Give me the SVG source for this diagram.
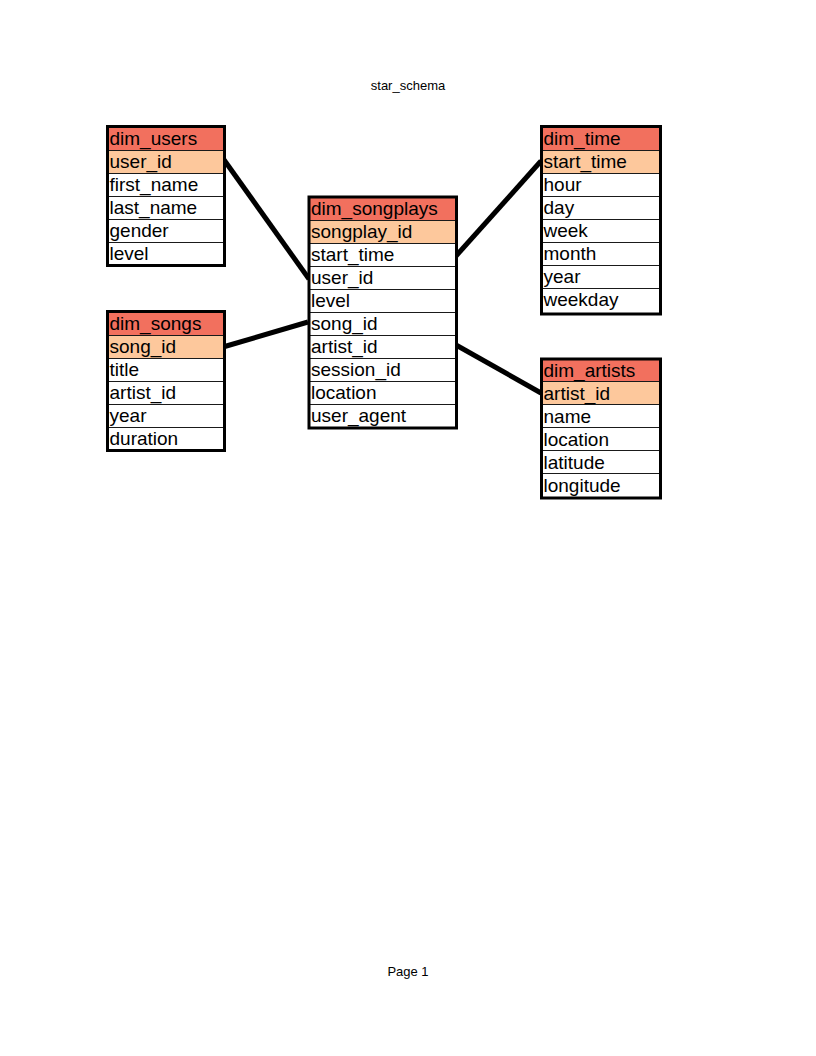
<svg xmlns="http://www.w3.org/2000/svg" width="816" height="1056" viewBox="0 0 816 1056">
<style>
.bg{fill:#ffffff}
.hdr{fill:#f2705e}
.pk{fill:#fdc89c}
.row{fill:#ffffff}
.sep{stroke:#1a1a1a;stroke-width:1}
.box{fill:none;stroke:#000;stroke-width:3}
.t{font-family:"Liberation Sans",Arial,sans-serif;font-size:19px;fill:#000}
.cap{font-family:"Liberation Sans",Arial,sans-serif;font-size:13px;fill:#000;text-anchor:middle}
.edge{stroke:#000;stroke-width:5;stroke-linecap:butt;fill:none}
</style>
<rect class="bg" x="0" y="0" width="816" height="1056"/>
<text class="cap" x="408" y="90">star_schema</text>
<text class="cap" x="408" y="976">Page 1</text>

<g id="connectors">
<line class="edge" x1="222" y1="157" x2="309" y2="279"/>
<line class="edge" x1="223" y1="347" x2="308" y2="322"/>
<line class="edge" x1="456" y1="256" x2="541" y2="161"/>
<line class="edge" x1="456" y1="345" x2="541" y2="393"/>
</g>

<g id="dim_users">
<rect class="hdr" x="107.5" y="127" width="117" height="23"/>
<rect class="pk" x="107.5" y="150" width="117" height="23"/>
<rect class="row" x="107.5" y="173" width="117" height="92"/>
<line class="sep" x1="107.5" y1="150.5" x2="224.5" y2="150.5"/>
<line class="sep" x1="107.5" y1="173.5" x2="224.5" y2="173.5"/>
<line class="sep" x1="107.5" y1="196.5" x2="224.5" y2="196.5"/>
<line class="sep" x1="107.5" y1="219.5" x2="224.5" y2="219.5"/>
<line class="sep" x1="107.5" y1="242.5" x2="224.5" y2="242.5"/>
<rect class="box" x="107.5" y="126.5" width="117" height="139"/>
<text class="t" x="109.5" y="145">dim_users</text>
<text class="t" x="109.5" y="168">user_id</text>
<text class="t" x="109.5" y="191">first_name</text>
<text class="t" x="109.5" y="214">last_name</text>
<text class="t" x="109.5" y="237">gender</text>
<text class="t" x="109.5" y="260">level</text>
</g>

<g id="dim_songs">
<rect class="hdr" x="107.5" y="312" width="117" height="23"/>
<rect class="pk" x="107.5" y="335" width="117" height="23"/>
<rect class="row" x="107.5" y="358" width="117" height="92"/>
<line class="sep" x1="107.5" y1="335.5" x2="224.5" y2="335.5"/>
<line class="sep" x1="107.5" y1="358.5" x2="224.5" y2="358.5"/>
<line class="sep" x1="107.5" y1="381.5" x2="224.5" y2="381.5"/>
<line class="sep" x1="107.5" y1="404.5" x2="224.5" y2="404.5"/>
<line class="sep" x1="107.5" y1="427.5" x2="224.5" y2="427.5"/>
<rect class="box" x="107.5" y="311.5" width="117" height="139"/>
<text class="t" x="109.5" y="330">dim_songs</text>
<text class="t" x="109.5" y="353">song_id</text>
<text class="t" x="109.5" y="376">title</text>
<text class="t" x="109.5" y="399">artist_id</text>
<text class="t" x="109.5" y="422">year</text>
<text class="t" x="109.5" y="445">duration</text>
</g>

<g id="dim_songplays">
<rect class="hdr" x="309" y="197.5" width="147.5" height="23"/>
<rect class="pk" x="309" y="220.5" width="147.5" height="23"/>
<rect class="row" x="309" y="243.5" width="147.5" height="185"/>
<line class="sep" x1="309" y1="220.5" x2="456.5" y2="220.5"/>
<line class="sep" x1="309" y1="243.5" x2="456.5" y2="243.5"/>
<line class="sep" x1="309" y1="266.5" x2="456.5" y2="266.5"/>
<line class="sep" x1="309" y1="289.5" x2="456.5" y2="289.5"/>
<line class="sep" x1="309" y1="312.5" x2="456.5" y2="312.5"/>
<line class="sep" x1="309" y1="335.5" x2="456.5" y2="335.5"/>
<line class="sep" x1="309" y1="358.5" x2="456.5" y2="358.5"/>
<line class="sep" x1="309" y1="381.5" x2="456.5" y2="381.5"/>
<line class="sep" x1="309" y1="404.5" x2="456.5" y2="404.5"/>
<rect class="box" x="309" y="197" width="147.5" height="231"/>
<text class="t" x="311" y="215">dim_songplays</text>
<text class="t" x="311" y="238">songplay_id</text>
<text class="t" x="311" y="261">start_time</text>
<text class="t" x="311" y="284">user_id</text>
<text class="t" x="311" y="307">level</text>
<text class="t" x="311" y="330">song_id</text>
<text class="t" x="311" y="353">artist_id</text>
<text class="t" x="311" y="376">session_id</text>
<text class="t" x="311" y="399">location</text>
<text class="t" x="311" y="422">user_agent</text>
</g>

<g id="dim_time">
<rect class="hdr" x="541.5" y="127.5" width="119" height="23"/>
<rect class="pk" x="541.5" y="150.5" width="119" height="23"/>
<rect class="row" x="541.5" y="173.5" width="119" height="140"/>
<line class="sep" x1="541.5" y1="150.5" x2="660.5" y2="150.5"/>
<line class="sep" x1="541.5" y1="173.5" x2="660.5" y2="173.5"/>
<line class="sep" x1="541.5" y1="196.5" x2="660.5" y2="196.5"/>
<line class="sep" x1="541.5" y1="219.5" x2="660.5" y2="219.5"/>
<line class="sep" x1="541.5" y1="242.5" x2="660.5" y2="242.5"/>
<line class="sep" x1="541.5" y1="265.5" x2="660.5" y2="265.5"/>
<line class="sep" x1="541.5" y1="288.5" x2="660.5" y2="288.5"/>
<rect class="box" x="541.5" y="126.5" width="119" height="187.5"/>
<text class="t" x="543.5" y="145">dim_time</text>
<text class="t" x="543.5" y="168">start_time</text>
<text class="t" x="543.5" y="191">hour</text>
<text class="t" x="543.5" y="214">day</text>
<text class="t" x="543.5" y="237">week</text>
<text class="t" x="543.5" y="260">month</text>
<text class="t" x="543.5" y="283">year</text>
<text class="t" x="543.5" y="306">weekday</text>
</g>

<g id="dim_artists">
<rect class="hdr" x="541.5" y="359" width="119" height="23"/>
<rect class="pk" x="541.5" y="382" width="119" height="23"/>
<rect class="row" x="541.5" y="405" width="119" height="93"/>
<line class="sep" x1="541.5" y1="381.5" x2="660.5" y2="381.5"/>
<line class="sep" x1="541.5" y1="404.5" x2="660.5" y2="404.5"/>
<line class="sep" x1="541.5" y1="427.5" x2="660.5" y2="427.5"/>
<line class="sep" x1="541.5" y1="450.5" x2="660.5" y2="450.5"/>
<line class="sep" x1="541.5" y1="473.5" x2="660.5" y2="473.5"/>
<rect class="box" x="541.5" y="359" width="119" height="139"/>
<text class="t" x="543.5" y="377">dim_artists</text>
<text class="t" x="543.5" y="400">artist_id</text>
<text class="t" x="543.5" y="423">name</text>
<text class="t" x="543.5" y="446">location</text>
<text class="t" x="543.5" y="469">latitude</text>
<text class="t" x="543.5" y="492">longitude</text>
</g>
</svg>
